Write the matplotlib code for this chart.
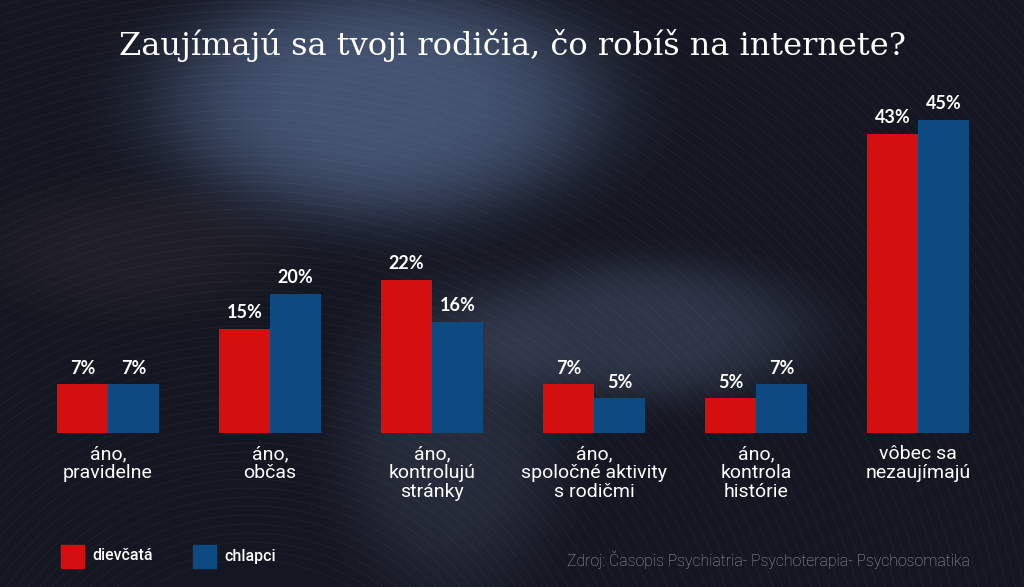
import numpy as np
import matplotlib.pyplot as plt
import matplotlib.patches as mpatches

# data
categories = ['áno,\npravidelne', 'áno,\nobčas', 'áno,\nkontrolujú\nstránky',
              'áno,\nspoločné aktivity\ns rodičmi', 'áno,\nkontrola\nhistórie',
              'vôbec sa\nnezaujímajú']
girls = [7, 15, 22, 7, 5, 43]
boys = [7, 20, 16, 5, 7, 45]
series_names = ['dievčatá', 'chlapci']

RED = '#d40f10'
BLUE = '#0d4a82'
W, H = 1024, 587

fig = plt.figure(figsize=(W / 100, H / 100), dpi=100)

# background: dark photo-like gradient
bg = fig.add_axes([0, 0, 1, 1])
yy, xx = np.mgrid[0:H, 0:W]
base = np.array([0.08, 0.09, 0.13])
img = np.ones((H, W, 3)) * base
def blob(cx, cy, sx, sy, col, amp):
    g = np.exp(-(((xx - cx) / sx) ** 2 + ((yy - cy) / sy) ** 2) ** 2)
    return g[..., None] * (np.array(col) - base) * amp
img += blob(380, 100, 220, 120, [0.30, 0.37, 0.50], 0.85)
img += blob(640, 330, 170, 70, [0.25, 0.29, 0.38], 0.6)
img += blob(450, 440, 110, 150, [0.22, 0.25, 0.33], 0.5)
img += blob(130, 250, 140, 60, [0.16, 0.14, 0.17], 0.6)
img = np.clip(img, 0, 1)
bg.imshow(img, extent=[0, W, H, 0], aspect='auto')
for r in np.arange(200, 1400, 9):
    bg.add_patch(mpatches.Circle((250, 760), r, fill=False, lw=0.5,
                                 ec='white', alpha=0.05))
bg.set_xlim(0, W)
bg.set_ylim(H, 0)
bg.axis('off')

# bars
ax = fig.add_axes([27 / W, 1 - 433 / H, 972 / W, 348 / H])
ax.patch.set_alpha(0)
x = np.arange(len(categories))
bw = 0.315
ax.bar(x - bw / 2, girls, bw, color=RED)
ax.bar(x + bw / 2, boys, bw, color=BLUE)
for i in range(len(x)):
    ax.text(x[i] - bw / 2, girls[i] + 1.1, f'{girls[i]}%', ha='center', va='bottom',
            color='white', fontsize=13, fontweight='bold', family='Lato')
    ax.text(x[i] + bw / 2, boys[i] + 1.1, f'{boys[i]}%', ha='center', va='bottom',
            color='white', fontsize=13, fontweight='bold', family='Lato')
ax.set_xlim(-0.5, 5.5)
ax.set_ylim(0, 50)
ax.axis('off')

for i, c in enumerate(categories):
    fig.text((108 + 162 * i) / W, 1 - 445 / H, c, ha='center', va='top',
             color='white', fontsize=14, family='Roboto', linespacing=1.08)

fig.text(0.5, 1 - 46 / H, 'Zaujímajú sa tvoji rodičia, čo robíš na internete?',
         ha='center', va='center', color='white', fontsize=23,
         family='DejaVu Serif')

# legend
for px, col, name in [(61, RED, series_names[0]), (193, BLUE, series_names[1])]:
    bg.add_patch(mpatches.Rectangle((px, 545), 23, 23, color=col))
    bg.text(px + 31, 556, name, color='white', fontsize=11.5, va='center',
            family='Roboto', fontweight='medium')

bg.text(970, 560, 'Zdroj: Časopis Psychiatria- Psychoterapia- Psychosomatika',
        ha='right', va='center', color='#a4a6ac', fontsize=11.3, family='Roboto',
        fontweight='light')

fig.savefig('out.png', dpi=100)
